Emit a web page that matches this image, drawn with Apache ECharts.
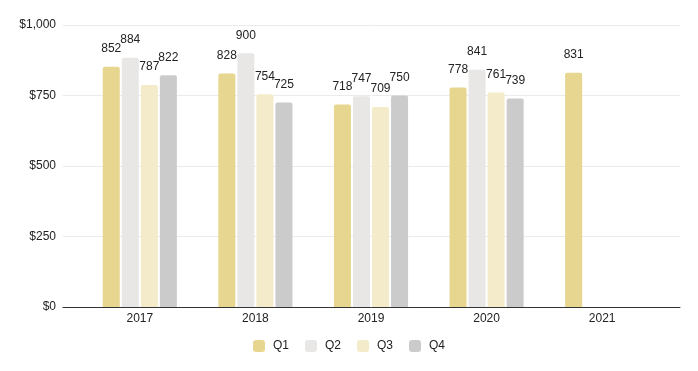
<!DOCTYPE html>
<html><head><meta charset="utf-8">
<script src="https://cdn.jsdelivr.net/npm/echarts@6/dist/echarts.min.js"></script>
<style>html,body{margin:0;padding:0;background:#fff}#c{width:698px;height:371px}</style>
</head><body><div id="c"></div>
<script>
const categories = ['2017','2018','2019','2020','2021'];
const q1 = [852, 828, 718, 778, 831];
const q2 = [884, 900, 747, 841, null];
const q3 = [787, 754, 709, 761, null];
const q4 = [822, 725, 750, 739, null];
const seriesNames = ['Q1','Q2','Q3','Q4'];
const seriesData = [q1, q2, q3, q4];
const colors = ['#e6d690', '#e8e7e6', '#f3ebc9', '#cbcbcb'];
const yTicks = [0, 250, 500, 750, 1000];

const font = 'Liberation Sans, Arial, sans-serif';
const chart = echarts.init(document.getElementById('c'));
chart.setOption({
  animation: false,
  color: colors,
  textStyle: { fontFamily: font },
  legend: {
    bottom: 14, left: 'center',
    itemWidth: 12, itemHeight: 12, itemGap: 16,
    icon: 'roundRect',
    data: seriesNames,
    textStyle: { fontSize: 12, color: '#222', fontFamily: font, padding: [0,0,0,3] }
  },
  grid: [
    { left: 63, right: 18, top: 25, bottom: 64 },
    { left: 82, right: 38, top: 25, bottom: 64 }
  ],
  xAxis: [
    { type: 'category', gridIndex: 0, data: categories,
      axisLine: { lineStyle: { color: '#333', width: 1 } },
      axisTick: { show: false }, axisLabel: { show: false } },
    { type: 'category', gridIndex: 1, data: categories,
      axisLine: { show: false }, axisTick: { show: false },
      axisLabel: { fontSize: 12, color: '#222', margin: 6, fontFamily: font } }
  ],
  yAxis: [
    { type: 'value', gridIndex: 0, min: yTicks[0], max: yTicks[yTicks.length-1], interval: 250,
      axisLine: { show: false }, axisTick: { show: false },
      splitLine: { lineStyle: { color: '#ebebeb' } },
      axisLabel: { fontSize: 12, color: '#222', margin: 7, fontFamily: font,
        formatter: v => '$' + v.toLocaleString('en-US') } },
    { type: 'value', gridIndex: 1, min: yTicks[0], max: yTicks[yTicks.length-1], interval: 250,
      show: false, splitLine: { show: false } }
  ],
  series: seriesNames.map((n, i) => ({
    name: n, type: 'bar', xAxisIndex: 1, yAxisIndex: 1,
    data: seriesData[i],
    barWidth: 17, barGap: '12%',
    itemStyle: { color: colors[i], borderRadius: [2,2,0,0] },
    label: { show: true, position: 'top', distance: 12, fontSize: 12, color: '#222', fontFamily: font }
  }))
});
</script></body></html>
